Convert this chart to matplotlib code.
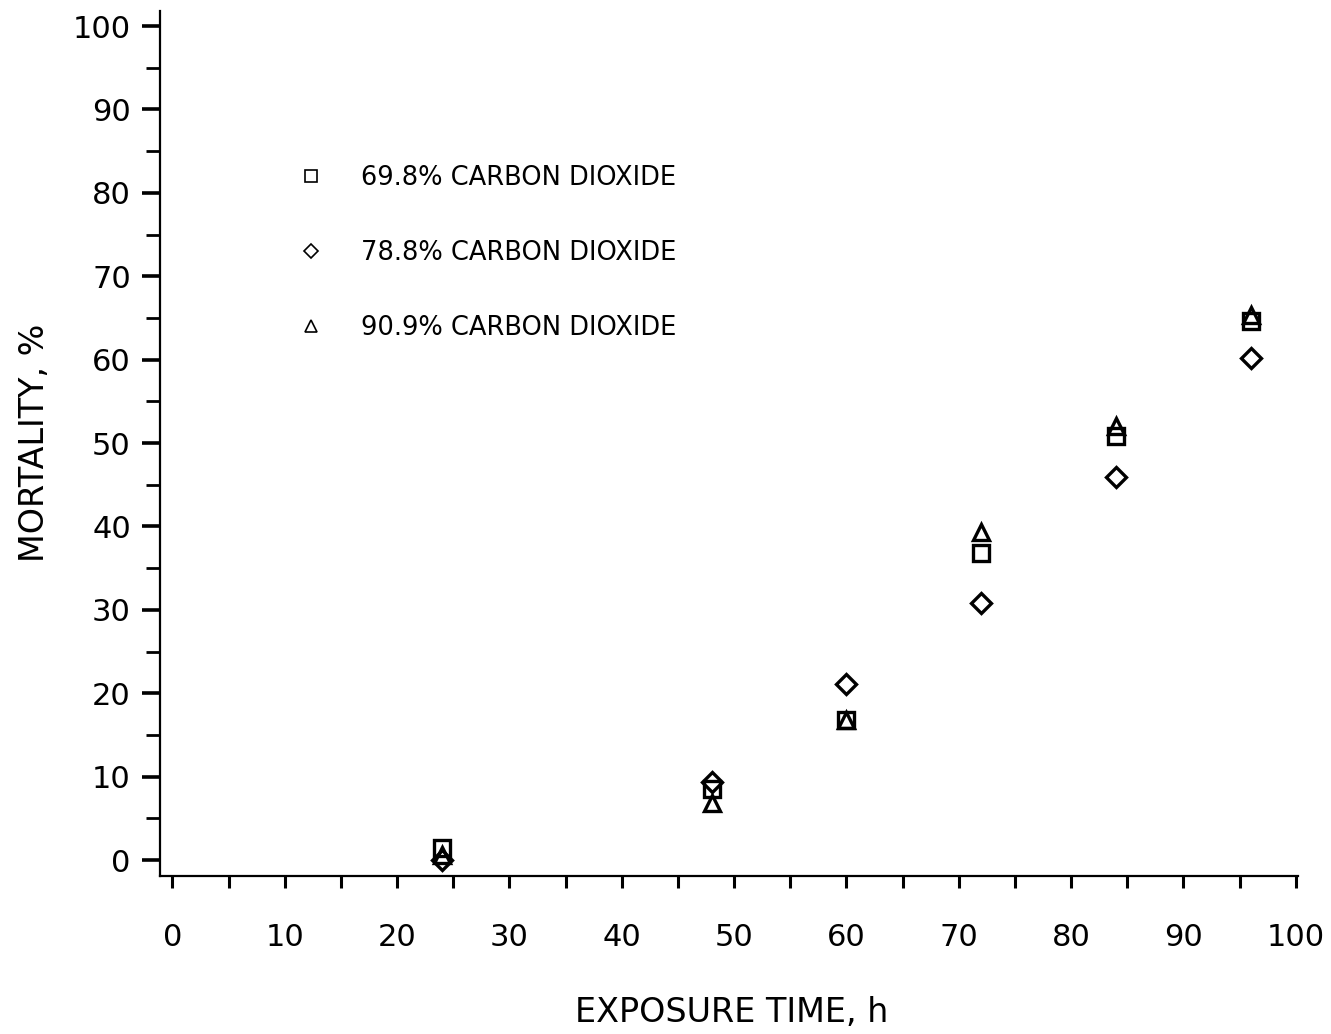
import matplotlib
matplotlib.use("Agg")
import matplotlib.pyplot as plt
from matplotlib.lines import Line2D

exposure_h = [24, 48, 60, 72, 84, 96]
co2_698 = [1.5, 8.5, 16.8, 36.8, 50.8, 64.6]
co2_788 = [0.0, 9.4, 21.1, 30.8, 45.9, 60.2]
co2_909 = [0.6, 6.8, 16.8, 39.3, 52.1, 65.3]
labels = ["69.8% CARBON DIOXIDE", "78.8% CARBON DIOXIDE", "90.9% CARBON DIOXIDE"]
markers = ["s", "D", "^"]

plt.rcParams['font.family'] = ['DejaVu Sans']
fig = plt.figure(figsize=(13.31, 10.34), dpi=100)
ax = fig.add_axes([160/1331, 158/1034, 1138/1331, 865/1034])

series = [co2_698, co2_788, co2_909]
sizes = [12, 10, 12]
for vals, m, s in zip(series, markers, sizes):
    ax.plot(exposure_h, vals, linestyle='none', marker=m, ms=s,
            mfc='none', mec='black', mew=2.4)

ax.set_xlim(-1.1, 100.2)
ax.set_ylim(-1.9, 101.8)
for sp in ['top', 'right']:
    ax.spines[sp].set_visible(False)
for sp in ['left', 'bottom']:
    ax.spines[sp].set_linewidth(1.6)

ax.set_xticks(range(0, 101, 10))
ax.set_xticks(range(5, 100, 10), minor=True)
ax.set_yticks(range(0, 101, 10))
ax.set_yticks(range(5, 100, 10), minor=True)
ax.tick_params(axis='x', which='both', direction='out', length=8.6, width=2.2,
               pad=25, labelsize=22)
ax.tick_params(axis='y', which='major', direction='out', length=13, width=2.6,
               pad=8, labelsize=22)
ax.tick_params(axis='y', which='minor', direction='out', length=10, width=2.0)

fig.text(732/1331, 1 - 1012/1034, "EXPOSURE TIME, h", fontsize=24,
         ha='center', va='center')
fig.text(35/1331, 1 - 443/1034, "MORTALITY, %", fontsize=24,
         ha='center', va='center', rotation=90)

handles = [Line2D([], [], linestyle='none', marker=m, ms=s, mfc='none',
                  mec='black', mew=1.2)
           for m, s in zip(markers, [9, 7, 9])]
ax.legend(handles, labels, loc='upper left', bbox_to_anchor=(0.1125, 0.8335),
          frameon=False, fontsize=18.5, labelspacing=1.9, handletextpad=1.45,
          handlelength=1.0, borderaxespad=0)

fig.savefig("out.png", dpi=100)
